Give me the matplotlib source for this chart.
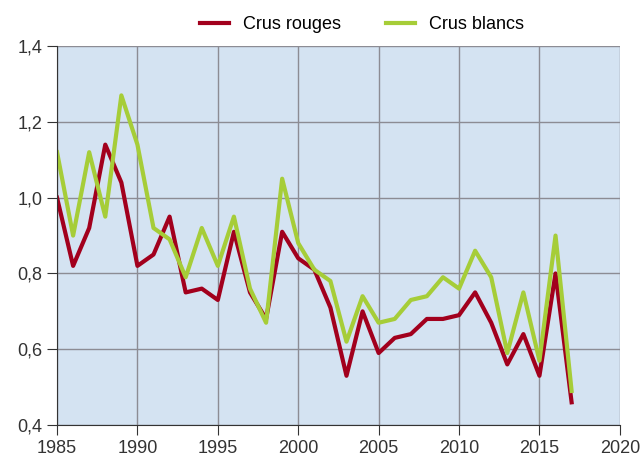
import numpy as np
import matplotlib.pyplot as plt

plt.rcParams['font.family'] = ['Liberation Sans', 'DejaVu Sans']

years = list(range(1985, 2018))
rouges = [1.00, 0.82, 0.92, 1.14, 1.04, 0.82, 0.85, 0.95, 0.75, 0.76,
          0.73, 0.91, 0.75, 0.68, 0.91, 0.84, 0.81, 0.71, 0.53, 0.70,
          0.59, 0.63, 0.64, 0.68, 0.68, 0.69, 0.75, 0.67, 0.56, 0.64,
          0.53, 0.80, 0.46]
blancs = [1.12, 0.90, 1.12, 0.95, 1.27, 1.14, 0.92, 0.89, 0.79, 0.92,
          0.82, 0.95, 0.76, 0.67, 1.05, 0.88, 0.81, 0.78, 0.62, 0.74,
          0.67, 0.68, 0.73, 0.74, 0.79, 0.76, 0.86, 0.79, 0.59, 0.75,
          0.57, 0.90, 0.49]

fig = plt.figure(figsize=(6.43, 4.61), dpi=100)
ax = fig.add_axes([0.0887, 0.078, 0.8753, 0.822])
ax.set_facecolor('#d4e3f2')

ax.plot(years, rouges, color='#a2001d', lw=3, label='Crus rouges')
ax.plot(years, blancs, color='#a6cd38', lw=3, label='Crus blancs')

ax.set_xlim(1985, 2020)
ax.set_ylim(0.4, 1.4)
ax.set_xticks(range(1985, 2021, 5))
yt = np.arange(0.4, 1.41, 0.2)
ax.set_yticks(yt)
ax.set_yticklabels([('%.1f' % v).replace('.', ',') for v in yt])
ax.grid(True, color='#8c8c94', lw=1)
ax.set_axisbelow(True)
for s in ['top', 'right']:
    ax.spines[s].set_visible(False)
ax.spines['left'].set_color('#333333')
ax.spines['bottom'].set_color('#333333')
ax.tick_params(labelsize=13, colors='#333333', length=7.5, direction='out')
ax.tick_params(axis='y', pad=3)
ax.tick_params(axis='x', pad=3)

ax.legend(loc='lower center', bbox_to_anchor=(0.542, 1.0), ncol=2, frameon=False,
          fontsize=13, handlelength=1.6, columnspacing=2.5, borderaxespad=0.3)

plt.savefig('out.png')
